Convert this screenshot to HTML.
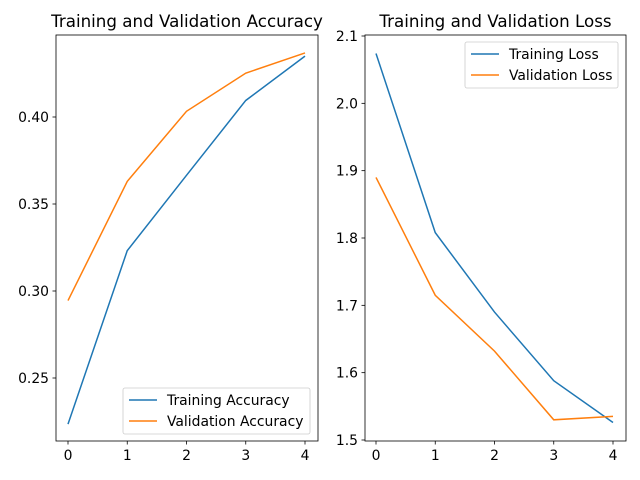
<!DOCTYPE html>
<html><head><meta charset="utf-8"><style>
html,body{margin:0;padding:0;background:#fff;}
svg{display:block;font-family:"DejaVu Sans","Liberation Sans",sans-serif;}
</style></head><body>
<svg id="c" width="640" height="480"></svg>
<script>
const epochs=[0,1,2,3,4];
const trainAcc=[0.2235,0.3232,0.3665,0.4095,0.4350];
const valAcc=[0.2945,0.3630,0.4033,0.4252,0.4368];
const trainLoss=[2.074,1.808,1.690,1.588,1.526];
const valLoss=[1.890,1.715,1.632,1.530,1.535];
const accTicks=[0.25,0.30,0.35,0.40];
const accTickLabels=["0.25","0.30","0.35","0.40"];
const lossTicks=[1.5,1.6,1.7,1.8,1.9,2.0,2.1];
const lossTickLabels=["1.5","1.6","1.7","1.8","1.9","2.0","2.1"];
const xTicks=[0,1,2,3,4];

const svg=document.getElementById('c');
const NS='http://www.w3.org/2000/svg';
function mk(tag,attrs,parent){const e=document.createElementNS(NS,tag);for(const k in attrs)e.setAttribute(k,attrs[k]);(parent||svg).appendChild(e);return e;}

function panel(o){
  const g=mk('g',{});
  
  
  const L=o.L,R=o.R,T=35,B=441;
  const xs=v=>o.x0+(v-0)*(o.x4-o.x0)/4;
  const ys=v=>o.yA+(v-o.vA)*(o.yB-o.yA)/(o.vB-o.vA);
  o.yt.forEach((v,i)=>{const y=ys(v);
    mk('line',{x1:L-3.5,x2:L,y1:y,y2:y,stroke:'#000','stroke-width':0.8},g);
    const t=mk('text',{x:L-7,y:y+5,'text-anchor':'end','font-size':13.9,fill:'#000'},g);t.textContent=o.ytl[i];
    
    });
  xTicks.forEach(v=>{const x=xs(v);
    mk('line',{x1:x,x2:x,y1:B,y2:B+3.5,stroke:'#000','stroke-width':0.8},g);
    const t=mk('text',{x:x,y:B+19,'text-anchor':'middle','font-size':13.9,fill:'#000'},g);t.textContent=String(v);
    
    });
  o.series.forEach(s=>{
    const p=mk('polyline',{points:epochs.map((e,i)=>xs(e)+','+ys(s.d[i])).join(' '),fill:'none',stroke:s.c,'stroke-width':1.5},g);
    
    
  });
  const fr=mk('rect',{x:L,y:T,width:R-L,height:B-T,fill:'none',stroke:'#000','stroke-width':0.8},g);
  
  
  const ti=mk('text',{x:(L+R)/2,y:27,'text-anchor':'middle','font-size':16.7,fill:'#000'},g);ti.textContent=o.title;
  
  
  const lg=mk('g',{},g);
  
  
  mk('rect',{x:o.lx,y:o.ly,width:o.lw,height:46,rx:2,fill:'#fff',stroke:'#ccc','stroke-width':0.8,'fill-opacity':0.8},lg);
  o.series.forEach((s,i)=>{const y=o.ly+12+i*21;
    mk('line',{x1:o.lx+6,x2:o.lx+34,y1:y,y2:y,stroke:s.c,'stroke-width':1.5},lg);
    const t=mk('text',{x:o.lx+44,y:y+5,'font-size':13.9,fill:'#000'},lg);t.textContent=s.label;
    
    });
}
panel({name:'accuracy-panel',L:56,R:318,x0:68,x4:305,yA:117,vA:0.40,yB:378,vB:0.25,yt:accTicks,ytl:accTickLabels,
  title:'Training and Validation Accuracy',lx:123,ly:388,lw:187,
  series:[{d:trainAcc,c:'#1f77b4',n:'training-accuracy-line',label:'Training Accuracy'},{d:valAcc,c:'#ff7f0e',n:'validation-accuracy-line',label:'Validation Accuracy'}]});
panel({name:'loss-panel',L:365,R:626,x0:376,x4:613,yA:36,vA:2.1,yB:440,vB:1.5,yt:lossTicks,ytl:lossTickLabels,
  title:'Training and Validation Loss',lx:465,ly:42,lw:153,
  series:[{d:trainLoss,c:'#1f77b4',n:'training-loss-line',label:'Training Loss'},{d:valLoss,c:'#ff7f0e',n:'validation-loss-line',label:'Validation Loss'}]});
</script>
</body></html>
